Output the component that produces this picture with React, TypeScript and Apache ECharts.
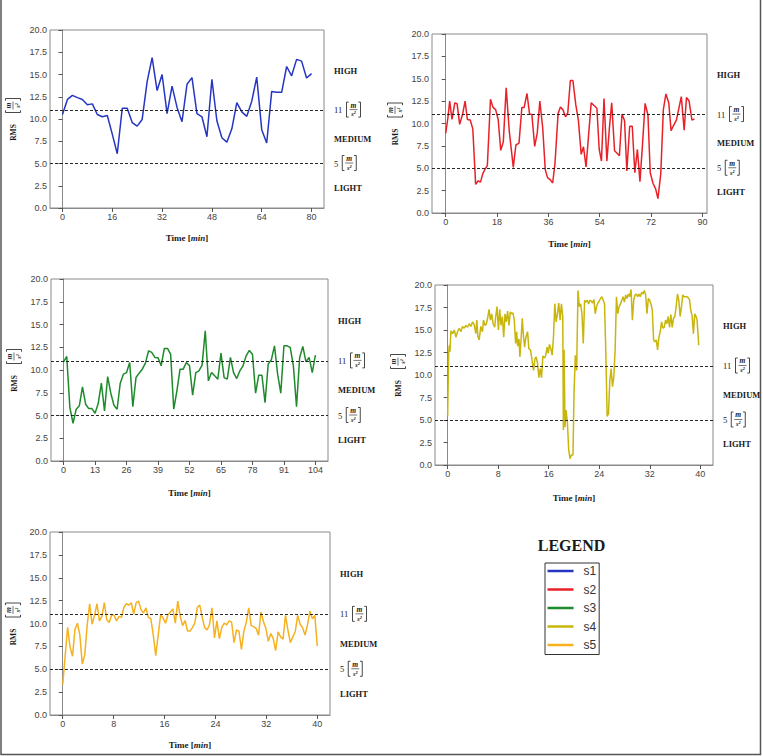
import React, { useEffect, useRef } from 'react';
import * as echarts from 'echarts';

// ---------- data ----------
const NAMES = ['s1', 's2', 's3', 's4', 's5'];
const COLORS = ['#2636c2', '#e82128', '#1f8a2c', '#c8b60c', '#f5b11e'];

const Y_MIN = 0;
const Y_MAX = 20;
const Y_STEP = 2.5;
const THRESHOLDS = [5, 11];
const ZONE_LABELS = ['HIGH', 'MEDIUM', 'LIGHT'];
const ZONE_LEVELS = [15.4, 7.8, 2.3];

const xTicks1 = [0, 16, 32, 48, 64, 80];
const xTicks2 = [0, 18, 36, 54, 72, 90];
const xTicks3 = [0, 13, 26, 39, 52, 65, 78, 91, 104];
const xTicks4 = [0, 8, 16, 24, 32, 40];
const xTicks5 = [0, 8, 16, 24, 32, 40];
const xRanges = [[-4, 84], [-4.8, 91.6], [-5.2, 109.2], [-2, 42], [-2, 42]];

const s1Step = 1.6; // min between samples
const s1Values = [
  10.5, 12.2, 12.65, 12.4, 12.2, 11.6, 11.7, 10.5, 10.25, 10.4,
  8.3, 6.1, 11.2, 11.2, 9.6, 9.2, 9.95, 14.2, 16.9, 13.2,
  15.0, 10.6, 13.7, 11.3, 9.7, 13.9, 14.65, 10.6, 10.25, 8.0,
  14.45, 9.8, 7.9, 7.4, 8.9, 11.85, 10.8, 10.3, 12.0, 14.7,
  8.8, 7.3, 13.1, 13.0, 13.0, 15.9, 14.85, 16.7, 16.5, 14.6,
  15.1,
];

const s2Points = [
  [0, 8.9], [0.8, 10.7], [1.4, 12.5], [2.2, 10.45], [3.2, 12.3], [4, 12.2], [4.9, 9.9], [5.9, 11.0],
  [6.8, 12.5], [7.6, 10.45], [8.6, 10.4], [9.5, 9.4], [10.5, 3.2], [11.4, 3.6], [12.2, 3.45], [13, 4.4],
  [13.8, 4.9], [14.6, 5.3], [15.7, 12.7], [16.6, 11.8], [17.5, 11.55], [18.4, 10.45], [19.3, 7.0],
  [20.2, 7.95], [21.2, 14.0], [22.3, 9.1], [23.7, 5.1], [24.6, 7.6], [25.7, 7.8], [26.7, 11.8],
  [27.5, 11.8], [28.5, 13.35], [29.4, 11.05], [30.2, 11.0], [31.2, 7.45], [32.1, 8.95], [33, 12.5],
  [34, 9.55], [34.9, 4.85], [35.7, 3.95], [36.7, 3.7], [37.5, 3.35], [38.3, 5.5], [39.4, 11.1],
  [40.2, 11.85], [41.1, 11.55], [42, 10.75], [42.8, 11.2], [43.7, 14.8], [44.6, 14.8], [45.6, 12.1],
  [46.5, 10.4], [47.5, 6.55], [48.3, 7.4], [49.2, 5.15], [51, 12.3], [52.2, 11.95], [53, 11.7],
  [53.8, 7.15], [54.6, 5.8], [55.5, 12.8], [56.5, 5.8], [57.4, 9.55], [58.2, 12.3], [59.2, 6.95],
  [60, 6.7], [60.9, 6.4], [61.8, 11.05], [62.7, 10.3], [63.5, 4.7], [64.5, 9.7], [65.4, 9.7],
  [66.3, 4.5], [67.2, 7.1], [68.1, 3.5], [69, 7.7], [69.9, 12.25], [70.9, 10.95], [71.7, 4.5],
  [72.7, 3.3], [73.6, 2.7], [74.4, 1.6], [75.4, 4.4], [76.3, 11.55], [77.2, 13.3], [78.2, 12.3],
  [79, 9.2], [79.9, 9.8], [80.9, 10.4], [81.8, 11.8], [82.6, 13.0], [83.6, 9.25], [84.4, 12.9],
  [85.3, 12.55], [86.3, 10.4], [87.2, 10.5],
];

const s3Step = 1.3;
const s3Values = [
  10.9, 11.49, 5.87, 4.15, 5.69, 6.06, 8.15, 6.24, 5.76, 5.76,
  5.25, 6.31, 8.55, 5.5, 9.28, 7.45, 6.13, 5.69, 8.55, 9.54,
  9.72, 10.83, 5.98, 9.17, 9.65, 10.09, 10.75, 12.11, 11.93, 11.38,
  11.34, 10.46, 12.37, 12.37, 11.74, 5.69, 7.71, 10.09, 10.09, 10.83,
  10.46, 7.23, 9.72, 9.91, 10.53, 14.31, 8.81, 9.72, 9.36, 8.99,
  11.85, 9.17, 8.99, 11.38, 9.72, 9.06, 9.91, 10.46, 11.56, 12.15,
  11.74, 7.45, 9.43, 9.43, 6.42, 10.64, 11.12, 12.66, 9.54, 7.45,
  12.66, 12.66, 12.48, 10.46, 5.98, 11.38, 12.59, 10.9, 11.38, 9.72,
  11.63,
];

const s4Points = [
  [0, 5.4], [0.16, 12.4], [0.26, 13.3], [0.37, 12.6], [0.52, 14.9], [0.79, 14.6], [1.05, 15.0], [1.31, 14.2],
  [1.57, 14.8], [1.84, 15.2], [2.1, 14.8], [2.36, 15.4], [2.62, 15.2], [2.89, 15.5], [3.15, 15.3], [3.41, 15.7],
  [3.67, 15.4], [3.94, 15.9], [4.2, 15.6], [4.46, 14.6], [4.62, 16.1], [4.78, 14.3], [4.99, 13.9], [5.25, 15.4],
  [5.51, 14.8], [5.67, 16.1], [5.93, 15.5], [6.14, 15.7], [6.35, 16.4], [6.56, 17.3], [6.77, 16.1], [6.98, 16.8],
  [7.19, 15.7], [7.45, 15.3], [7.61, 16.5], [7.82, 17.6], [8.03, 15.0], [8.24, 17.3], [8.45, 15.5], [8.66, 16.5],
  [8.87, 14.2], [9.08, 16.8], [9.29, 15.9], [9.5, 17.1], [9.71, 15.5], [9.92, 17.0], [10.13, 16.8], [10.34, 16.9],
  [10.55, 16.1], [10.76, 13.5], [10.92, 14.8], [11.08, 13.2], [11.29, 14.0], [11.44, 12.0], [11.6, 13.7],
  [11.81, 16.3], [11.97, 14.6], [12.18, 13.1], [12.39, 14.2], [12.65, 14.8], [12.86, 12.9], [13.12, 12.8],
  [13.39, 11.5], [13.6, 10.5], [13.81, 11.8], [14.02, 12.0], [14.23, 11.3], [14.44, 9.7], [14.65, 10.7],
  [14.86, 9.7], [15.07, 12.1], [15.33, 11.9], [15.49, 12.1], [15.75, 13.1], [15.91, 12.4], [16.12, 13.4],
  [16.33, 12.9], [16.54, 12.2], [16.75, 14.2], [16.96, 17.9], [17.17, 15.9], [17.38, 16.8], [17.59, 18.0],
  [17.8, 16.1], [18.01, 17.9], [18.22, 16.5], [18.32, 3.9], [18.43, 12.8], [18.58, 4.2], [18.74, 6.1],
  [18.95, 4.8], [19.16, 1.7], [19.37, 0.7], [19.58, 1.1], [19.84, 1.1], [20.0, 7.9], [20.21, 12.2],
  [20.42, 10.5], [20.63, 19.4], [20.84, 17.6], [21.05, 17.9], [21.26, 16.8], [21.47, 13.5], [21.68, 18.3],
  [21.89, 18.1], [22.1, 18.3], [22.31, 17.9], [22.52, 18.3], [22.73, 18.2], [22.94, 18.0], [23.15, 18.4],
  [23.36, 16.8], [23.57, 17.6], [23.78, 18.0], [23.99, 18.2], [24.2, 18.5], [24.41, 18.7], [24.62, 18.3],
  [24.83, 17.9], [25.04, 12.4], [25.25, 5.4], [25.46, 5.7], [25.67, 9.4], [25.88, 10.7], [26.09, 8.7],
  [26.3, 9.8], [26.51, 12.8], [26.72, 18.7], [26.93, 16.8], [27.14, 17.6], [27.35, 17.9], [27.56, 18.3],
  [27.77, 18.7], [27.98, 18.1], [28.19, 18.9], [28.4, 18.5], [28.61, 19.0], [28.82, 18.7], [29.03, 19.5],
  [29.24, 16.1], [29.45, 18.3], [29.66, 18.9], [29.87, 19.0], [30.08, 18.7], [30.29, 19.0], [30.5, 18.7],
  [30.71, 19.2], [30.92, 19.0], [31.13, 19.4], [31.34, 18.9], [31.55, 16.8], [31.76, 18.5], [31.97, 18.3],
  [32.18, 17.9], [32.39, 17.2], [32.6, 13.9], [32.81, 13.7], [33.02, 13.9], [33.23, 12.8], [33.44, 14.2],
  [33.65, 14.8], [33.86, 15.9], [34.07, 15.2], [34.28, 15.3], [34.49, 16.1], [34.7, 15.7], [34.91, 16.5],
  [35.12, 15.3], [35.33, 16.7], [35.54, 15.3], [35.75, 16.3], [35.96, 16.5], [36.17, 17.6], [36.38, 19.0],
  [36.59, 18.3], [36.8, 16.5], [37.01, 17.6], [37.22, 18.9], [37.43, 18.7], [37.64, 18.7], [37.85, 18.7],
  [38.06, 18.6], [38.27, 18.4], [38.48, 17.2], [38.69, 16.6], [38.9, 14.6], [39.11, 16.8], [39.32, 16.5],
  [39.48, 16.1], [39.74, 13.3],
];

const s5Span = 40;
const s5Values = [
  3.32, 6.49, 9.58, 7.42, 6.42, 9.36, 10.03, 8.73, 5.56, 6.57,
  9.85, 12.16, 9.92, 10.89, 12.16, 10.29, 10.78, 12.27, 10.4, 10.11,
  10.96, 10.89, 10.29, 10.78, 10.67, 11.78, 12.16, 12.01, 12.27, 11.04,
  12.27, 12.45, 11.52, 11.15, 11.71, 10.67, 10.52, 8.73, 6.49, 8.73,
  10.96, 10.59, 10.03, 10.96, 11.26, 11.6, 10.03, 12.45, 10.78, 9.77,
  10.33, 9.17, 9.17, 9.55, 10.07, 11.78, 12.01, 10.67, 9.55, 9.29,
  9.92, 11.71, 8.43, 10.29, 8.35, 9.58, 10.03, 9.85, 10.29, 10.14,
  7.91, 9.29, 9.17, 7.16, 9.17, 10.14, 11.71, 9.77, 9.66, 9.47,
  8.73, 11.26, 10.22, 9.47, 8.06, 8.91, 8.35, 7.05, 9.1, 8.54,
  8.28, 10.89, 9.29, 7.91, 8.54, 9.1, 10.89, 9.92, 9.55, 8.73,
  9.85, 11.34, 10.52, 10.89, 7.53,
];

// ---------- layout ----------
const GRIDS = [
  { left: 50, top: 30, width: 274, height: 178 },
  { left: 432, top: 34, width: 275, height: 179 },
  { left: 51, top: 279, width: 277, height: 182 },
  { left: 435, top: 285, width: 278, height: 180 },
  { left: 50, top: 532, width: 280, height: 183 },
];
const NAME_GAPS = [25, 26, 27, 28, 25];
const INK = '#1a1a1a';

const withStep = (vals: number[], step: number) => vals.map((v, i) => [+(i * step).toFixed(3), v]);

function textEl(x: number, y: number, text: string, font: string, align: string, va: string) {
  return {
    type: 'text',
    x,
    y,
    silent: true,
    style: { text, font, fill: INK, align, verticalAlign: va, textAlign: align, textVerticalAlign: va },
  };
}

function fracChildren(cx: number, cy: number): any[] {
  const hw = 7;
  const hh = 7.5;
  const lip = 2.2;
  const st = { stroke: INK, lineWidth: 0.8, fill: 'none' };
  return [
    { type: 'polyline', silent: true, shape: { points: [[cx - hw + lip, cy - hh], [cx - hw, cy - hh], [cx - hw, cy + hh], [cx - hw + lip, cy + hh]] }, style: st },
    { type: 'polyline', silent: true, shape: { points: [[cx + hw - lip, cy - hh], [cx + hw, cy - hh], [cx + hw, cy + hh], [cx + hw - lip, cy + hh]] }, style: st },
    { type: 'line', silent: true, shape: { x1: cx - 4, y1: cy, x2: cx + 4, y2: cy }, style: { stroke: INK, lineWidth: 0.6 } },
    textEl(cx, cy - 0.6, 'm', 'italic bold 7.5px "Liberation Serif"', 'center', 'bottom'),
    textEl(cx, cy + 0.8, 's²', 'italic bold 6.5px "Liberation Serif"', 'center', 'top'),
  ];
}

export default function App() {
  const ref = useRef<HTMLDivElement>(null);

  useEffect(() => {
    if (!ref.current) return;
    const chart = echarts.init(ref.current, undefined, { renderer: 'svg' });

    const seriesData = [
      withStep(s1Values, s1Step),
      s2Points,
      withStep(s3Values, s3Step),
      s4Points,
      withStep(s5Values, s5Span / (s5Values.length - 1)),
    ];
    const xTicks = [xTicks1, xTicks2, xTicks3, xTicks4, xTicks5];

    const option: any = {
      animation: false,
      backgroundColor: '#ffffff',
      grid: GRIDS.map((g) => ({
        ...g,
        show: true,
        borderColor: '#8a8a8a',
        borderWidth: 1,
        containLabel: false,
        outerBoundsMode: 'none',
      })),
      xAxis: GRIDS.map((_, i) => ({
        type: 'value',
        gridIndex: i,
        min: xRanges[i][0],
        max: xRanges[i][1],
        name: '{b|Time [}{i|min}{b|]}',
        nameLocation: 'middle',
        nameGap: NAME_GAPS[i],
        nameTextStyle: {
          rich: {
            b: { fontFamily: 'Liberation Serif', fontWeight: 'bold', fontSize: 9, color: INK },
            i: { fontFamily: 'Liberation Serif', fontWeight: 'bold', fontStyle: 'italic', fontSize: 9, color: INK },
          },
        },
        axisLine: { show: true, onZero: false, lineStyle: { color: '#8a8a8a', width: 1 } },
        axisTick: { show: true, length: 4, lineStyle: { color: '#555' }, customValues: xTicks[i] },
        axisLabel: {
          show: true,
          margin: 4,
          customValues: xTicks[i],
          fontFamily: 'Liberation Sans',
          fontSize: 9,
          color: '#444',
        },
        splitLine: { show: false },
      })),
      yAxis: GRIDS.map((_, i) => ({
        type: 'value',
        gridIndex: i,
        min: Y_MIN,
        max: Y_MAX,
        interval: Y_STEP,
        axisLine: { show: true, lineStyle: { color: '#8a8a8a', width: 1 } },
        axisTick: { show: true, length: 4, lineStyle: { color: '#555' } },
        axisLabel: {
          margin: 3,
          fontFamily: 'Liberation Sans',
          fontSize: 9,
          color: '#444',
          formatter: (v: number) => v.toFixed(1),
        },
        splitLine: { show: false },
      })),
      legend: {
        orient: 'vertical',
        left: 545,
        top: 563,
        data: NAMES,
        icon: 'rect',
        itemWidth: 26,
        itemHeight: 2.5,
        itemGap: 5.5,
        padding: [1.5, 3, 3, 2.5],
        borderColor: '#333',
        borderWidth: 1,
        selectedMode: false,
        itemStyle: { borderWidth: 0 },
        textStyle: { fontFamily: 'Liberation Sans', fontSize: 12, color: '#333', lineHeight: 13, padding: [0, 0, 0, 5] },
      },
      series: NAMES.map((name, i) => ({
        type: 'line',
        name,
        xAxisIndex: i,
        yAxisIndex: i,
        data: seriesData[i],
        showSymbol: false,
        symbol: 'none',
        lineStyle: { color: COLORS[i], width: 1.5 },
        itemStyle: { color: COLORS[i] },
        markLine: {
          silent: true,
          symbol: ['none', 'none'],
          label: { show: false },
          lineStyle: { color: '#111', type: [3, 2], width: 0.9 },
          data: THRESHOLDS.map((t) => ({ yAxis: t })),
        },
      })),
    };

    chart.setOption(option);

    // annotations positioned through the axes' own scales
    const graphics: any[] = [];
    GRIDS.forEach((_, i) => {
      const [xMin, xMax] = xRanges[i];
      const px = (x: number, y: number) => chart.convertToPixel({ gridIndex: i } as any, [x, y]) as number[];
      const right = px(xMax, 0)[0];
      const left = px(xMin, 0)[0];
      const yc = (px(xMin, Y_MIN)[1] + px(xMin, Y_MAX)[1]) / 2;

      ZONE_LABELS.forEach((lab, k) => {
        const y = px(xMax, ZONE_LEVELS[k])[1];
        graphics.push(textEl(right + 10, y, lab, 'bold 8.5px "Liberation Serif"', 'left', 'middle'));
      });

      THRESHOLDS.forEach((t) => {
        const y = px(xMax, t)[1];
        const label = String(t);
        graphics.push(textEl(right + 10, y, label, '8.5px "Liberation Serif"', 'left', 'middle'));
        const bx = right + 10 + label.length * 4.25 + 4 + 7;
        graphics.push({ type: 'group', x: 0, y: 0, children: fracChildren(bx, y - 0.5) });
      });

      graphics.push({
        type: 'group',
        x: left - 37,
        y: yc,
        rotation: Math.PI / 2,
        children: [
          textEl(-13.5, 0, 'RMS', 'bold 7.5px "Liberation Serif"', 'center', 'middle'),
          ...fracChildren(13.5, 0),
        ],
      });
    });

    graphics.push(textEl(571.5, 545.5, 'LEGEND', 'bold 16px "Liberation Serif"', 'center', 'middle'));
    graphics.push({
      type: 'polyline',
      silent: true,
      shape: { points: [[1, 0], [1, 754.5], [760.5, 754.5], [760.5, 0]] },
      style: { stroke: '#555', lineWidth: 1.5, fill: 'none' },
    });

    chart.setOption({ graphic: graphics });

    return () => {
      chart.dispose();
    };
  }, []);

  return (
    <div
      ref={ref}
      style={{ position: 'fixed', left: 0, top: 0, width: 763, height: 756, background: '#fff' }}
    />
  );
}
